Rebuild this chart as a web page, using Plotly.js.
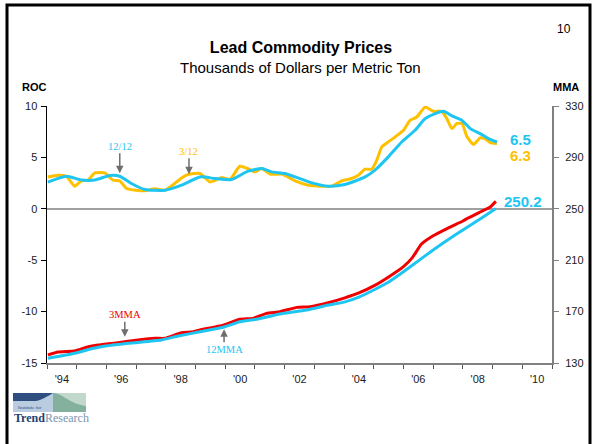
<!DOCTYPE html>
<html>
<head>
<meta charset="utf-8">
<script src="https://cdn.plot.ly/plotly-3.0.1.min.js"></script>
<style>html,body{margin:0;padding:0;background:#fff;}#chart{width:594px;height:444px;}</style>
</head>
<body>
<div id="chart"></div>
<script>
// ---- data (decimal years) ----
const roc312Years = [1994.03,1994.37,1994.65,1994.93,1995.16,1995.38,1995.61,1995.94,1996.22,1996.45,1996.68,1997.0,1997.29,1997.63,1997.97,1998.3,1998.53,1998.75,1999.15,1999.48,1999.65,1999.88,2000.16,2000.49,2000.77,2001.0,2001.23,2001.51,2001.9,2002.35,2002.8,2003.25,2003.59,2003.92,2004.2,2004.48,2004.71,2004.93,2005.1,2005.27,2005.44,2005.72,2006.0,2006.22,2006.45,2006.73,2007.01,2007.29,2007.46,2007.63,2007.8,2007.97,2008.14,2008.36,2008.58,2008.75,2008.92,2009.15];
const roc312 = [3.1,3.27,3.17,2.2,2.72,2.8,3.5,3.5,2.78,2.7,1.98,1.8,1.75,1.94,1.81,2.46,3.0,3.34,3.43,2.62,2.75,3.05,2.85,4.14,3.9,3.59,3.92,3.37,3.37,2.72,2.3,2.2,2.2,2.72,2.9,3.27,3.85,3.85,4.73,6.02,6.4,7.0,7.64,8.6,8.93,9.9,9.48,9.48,8.77,7.8,8.3,8.3,7.0,6.25,6.9,6.8,6.44,6.35];

const roc1212Years = [1994.03,1994.65,1995.16,1995.61,1996.11,1996.45,1996.84,1997.29,1997.97,1998.53,1999.15,1999.65,2000.21,2000.77,2001.23,2001.56,2002.01,2002.35,2002.91,2003.47,2004.03,2004.71,2005.04,2005.49,2005.94,2006.39,2006.73,2007.07,2007.35,2007.63,2007.97,2008.25,2008.64,2008.86,2009.15];
const roc1212 = [2.6,3.17,2.8,2.8,3.24,3.17,2.46,1.88,1.81,2.3,3.1,2.95,2.85,3.66,3.92,3.59,3.43,3.1,2.52,2.2,2.37,3.1,3.76,5.05,6.5,7.64,8.77,9.26,9.48,9.03,8.6,7.8,7.22,6.83,6.5];

const mma3Years = [1994.03,1994.37,1994.93,1995.33,1995.72,1996.39,1997.07,1997.63,1997.97,1998.53,1998.87,1999.15,1999.93,2000.49,2000.94,2001.39,2001.84,2002.41,2002.85,2003.47,2004.0,2004.5,2005.0,2005.5,2006.0,2006.3,2006.6,2007.0,2007.5,2008.0,2008.19,2008.58,2008.92,2009.11];
const mma3 = [136.3,138.6,139.4,142.2,144.0,145.8,147.9,149.2,149.2,153.6,154.1,155.7,159.5,164.0,164.7,168.6,169.9,173.3,173.8,176.9,180.5,184.5,190.0,197.0,205.0,212.0,222.4,229.0,235.0,240.5,243.0,247.5,251.4,255.8];

const mma12Years = [1994.03,1994.93,1995.72,1996.73,1997.85,1998.42,1999.15,1999.93,2000.49,2001.05,2001.84,2002.74,2003.47,2004.0,2004.5,2005.0,2005.5,2006.0,2006.5,2007.0,2007.5,2008.0,2008.58,2009.11];
const mma12 = [133.7,137.6,142.2,145.3,147.9,151.0,154.3,157.8,162.1,164.0,168.1,171.2,175.1,177.4,181.3,186.8,193.0,201.0,209.5,218.0,226.0,233.5,242.0,250.2];

const xLabelVals = [1994.5,1996.5,1998.5,2000.5,2002.5,2004.5,2006.5,2008.5,2010.5];
const xLabelText = ["'94","'96","'98","'00","'02","'04","'06","'08","'10"];
const yearTicks = [1994,1995,1996,1997,1998,1999,2000,2001,2002,2003,2004,2005,2006,2007,2008,2009,2010,2011];
const rocTicks = [10,5,0,-5,-10,-15];
const rocTickText = ["10","5","0","-5","-10","-15"];
const mmaTicks = [330,290,250,210,170,130];
const mmaTickText = ["330","290","250","210","170","130"];
const lastRoc1212 = "6.5", lastRoc312 = "6.3", lastMma12 = "250.2";

// ---- layout helpers ----
const L=47, R=552, T=106, B=363;
const px = x => (x-L)/(R-L);
const py = y => (B-y)/(B-T);
const SANS = "Liberation Sans, Arial, sans-serif";
const SERIF = "Liberation Serif, Times New Roman, serif";
const GOLD = "#FFC000", CYAN = "#1EC5F2", RED = "#F00000";

const traces = [
  {x: roc312Years, y: roc312, type:'scatter', mode:'lines', line:{color:GOLD, width:3, shape:'spline', smoothing:0.5}, yaxis:'y', hoverinfo:'skip'},
  {x: roc1212Years, y: roc1212, type:'scatter', mode:'lines', line:{color:CYAN, width:3, shape:'spline', smoothing:0.6}, yaxis:'y', hoverinfo:'skip'},
  {x: mma3Years, y: mma3, type:'scatter', mode:'lines', line:{color:RED, width:3, shape:'spline', smoothing:0.4}, yaxis:'y2', hoverinfo:'skip'},
  {x: mma12Years, y: mma12, type:'scatter', mode:'lines', line:{color:CYAN, width:3, shape:'spline', smoothing:0.5}, yaxis:'y2', hoverinfo:'skip'},
  // carrier for the year-label axis (draws nothing)
  {x: xLabelVals, y: xLabelVals.map(() => null), type:'scatter', mode:'markers', xaxis:'x2', yaxis:'y', marker:{opacity:0}, hoverinfo:'skip'}
];

const arrowAnn = (text, color, x, y, yref, ay) => ({
  text, x, y, xref:'x', yref, showarrow:true, ax:0, ay, arrowhead:2, arrowsize:1, arrowwidth:1.5,
  arrowcolor:'#6e6e6e', standoff:0, startstandoff:0, font:{family:SERIF, size:10.5, color}
});

const layout = {
  width:594, height:444,
  margin:{l:L, r:594-R, t:T, b:444-B, pad:0},
  paper_bgcolor:'#fff', plot_bgcolor:'#fff',
  showlegend:false,
  font:{family:SANS, color:'#1a1a1a', size:11},
  title:{text:'<b>Lead Commodity Prices</b>', font:{family:SANS, size:16, color:'#000'},
         x:301/594, xref:'container', xanchor:'center', y:1-47/444, yref:'container', yanchor:'middle'},
  xaxis:{range:[1994,2011], tickmode:'array', tickvals:yearTicks, ticktext:yearTicks.map(() => ''), ticks:'outside',
         ticklen:4, tickwidth:1, tickcolor:'#555', showticklabels:true,
         showgrid:false, zeroline:false, showline:true, linecolor:'#808080', linewidth:1.5},
  xaxis2:{range:[1994,2011], overlaying:'x', anchor:'y', side:'bottom', tickmode:'array', tickvals:xLabelVals, ticktext:xLabelText,
          ticks:'', ticklabelstandoff:8, showgrid:false, zeroline:false, showline:false, tickfont:{size:11, color:'#1a1a1a'}},
  yaxis:{range:[-15,10], tickmode:'array', tickvals:rocTicks, ticktext:rocTickText, ticks:'outside', ticklen:5,
         tickcolor:'#000', tickwidth:1, ticklabelstandoff:1, showgrid:false, showline:true, linecolor:'#000', linewidth:1.5,
         zeroline:true, zerolinecolor:'#a0a0a0', zerolinewidth:1.5, tickfont:{size:11, color:'#1a1a1a'}},
  yaxis2:{range:[130,330], overlaying:'y', side:'right', tickmode:'array', tickvals:mmaTicks, ticktext:mmaTickText,
          ticks:'outside', ticklen:5, tickcolor:'#808080', tickwidth:1, ticklabelstandoff:4, showgrid:false,
          showline:true, linecolor:'#808080', linewidth:2, zeroline:false, tickfont:{size:11, color:'#1a1a1a'}},
  shapes:[
    {type:'rect', xref:'paper', yref:'paper', x0:px(7), x1:px(590), y0:py(470), y1:py(5), line:{color:'#000', width:3}, fillcolor:'rgba(0,0,0,0)'},
    // logo
    {type:'rect', xref:'paper', yref:'paper', x0:px(13), x1:px(53), y0:py(412), y1:py(393), line:{width:0}, fillcolor:'#B9CCE0'},
    {type:'path', xref:'paper', yref:'paper', line:{width:0}, fillcolor:'#2F4E80',
     path:`M ${px(13)},${py(393)} L ${px(53)},${py(393)} C ${px(48)},${py(396)} ${px(42)},${py(400)} ${px(36)},${py(401)} L ${px(13)},${py(401)} Z`},
    {type:'rect', xref:'paper', yref:'paper', x0:px(53), x1:px(86), y0:py(412), y1:py(393), line:{width:0}, fillcolor:'#C3D8CC'},
    {type:'path', xref:'paper', yref:'paper', line:{width:0}, fillcolor:'#84B09E',
     path:`M ${px(53)},${py(393)} C ${px(62)},${py(393)} ${px(70)},${py(404)} ${px(86)},${py(406)} L ${px(86)},${py(412)} L ${px(53)},${py(412)} Z`}
  ],
  annotations:[
    {text:'Thousands of Dollars per Metric Ton', xref:'paper', yref:'paper', x:px(300), y:py(67), showarrow:false,
     font:{family:SANS, size:15, color:'#000'}, xanchor:'center', yanchor:'middle'},
    {text:'<b>ROC</b>', xref:'paper', yref:'paper', x:px(34), y:py(87), showarrow:false, font:{family:SANS, size:11, color:'#000'}, xanchor:'center', yanchor:'middle'},
    {text:'<b>MMA</b>', xref:'paper', yref:'paper', x:px(566), y:py(87), showarrow:false, font:{family:SANS, size:11, color:'#000'}, xanchor:'center', yanchor:'middle'},
    {text:'10', xref:'paper', yref:'paper', x:px(564), y:py(29), showarrow:false, font:{family:SANS, size:12, color:'#000'}, xanchor:'center', yanchor:'middle'},
    arrowAnn('12/12', CYAN, 1996.45, 3.46, 'y', -27),
    arrowAnn('3/12', GOLD, 1998.78, 3.37, 'y', -23),
    arrowAnn('3MMA', RED, 1996.62, 150.5, 'y2', -22),
    arrowAnn('12MMA', CYAN, 1999.96, 156.2, 'y2', 20),
    {text:'<b>'+lastRoc1212+'</b>', xref:'x', yref:'y', x:2009.52, y:6.76, showarrow:false, xanchor:'left', yanchor:'middle', font:{family:SANS, size:15, color:CYAN}},
    {text:'<b>'+lastRoc312+'</b>', xref:'x', yref:'y', x:2009.52, y:5.21, showarrow:false, xanchor:'left', yanchor:'middle', font:{family:SANS, size:15, color:GOLD}},
    {text:'<b>'+lastMma12+'</b>', xref:'x', yref:'y2', x:2009.3, y:255.8, showarrow:false, xanchor:'left', yanchor:'middle', font:{family:SANS, size:15, color:CYAN}},
    {text:'Institute for', xref:'paper', yref:'paper', x:px(30), y:py(407), showarrow:false, font:{family:SERIF, size:5, color:'#2F4E80'}, xanchor:'center', yanchor:'middle'},
    {text:'<b>Trend</b><span style="color:#7B95AE">Research</span>', xref:'paper', yref:'paper', x:px(12), y:py(418), showarrow:false,
     font:{family:SERIF, size:12, color:'#1F3F73'}, xanchor:'left', yanchor:'middle'}
  ]
};

Plotly.newPlot('chart', traces, layout, {staticPlot:true, displayModeBar:false});
</script>
</body>
</html>
